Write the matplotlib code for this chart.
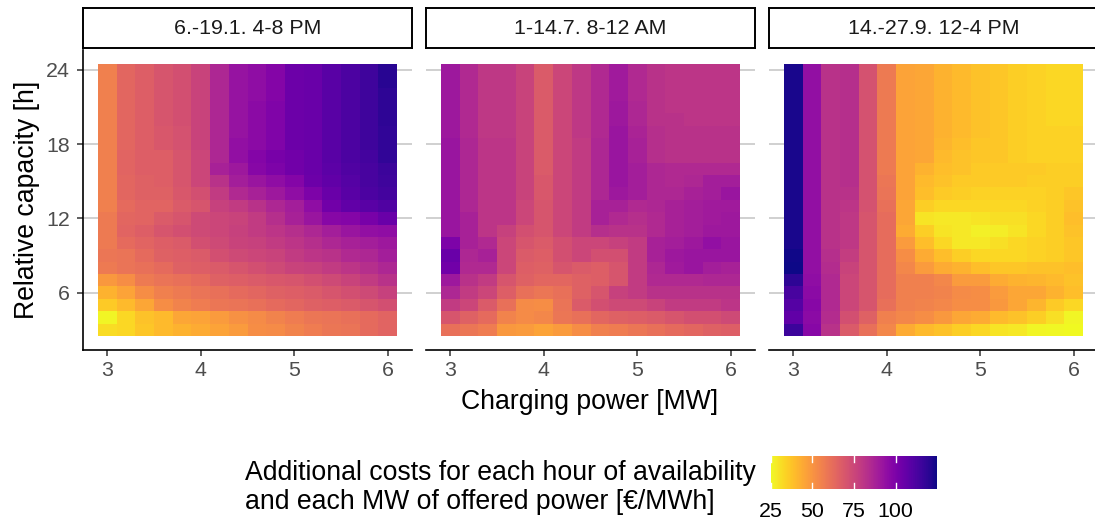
import numpy as np
import matplotlib.pyplot as plt
from matplotlib.colors import Normalize

plt.rcParams['font.family'] = ['Liberation Sans', 'DejaVu Sans']

# charging power [MW] (columns) and relative capacity [h] (rows)
power_mw = [3.0, 3.2, 3.4, 3.6, 3.8, 4.0, 4.2, 4.4, 4.6, 4.8, 5.0, 5.2, 5.4, 5.6, 5.8, 6.0]
capacity_h = [24, 23, 22, 21, 20, 19, 18, 17, 16, 15, 14, 13, 12, 11, 10, 9, 8, 7, 6, 5, 4, 3]

panel_titles = ["6.-19.1. 4-8 PM", "1-14.7. 8-12 AM", "14.-27.9. 12-4 PM"]

# additional costs [EUR/MWh], one row per capacity (24 h at the top)
cost_winter = [
    [56, 64, 67, 70, 72, 76, 86, 93, 95, 98, 104, 105, 109, 112, 115, 120],
    [56, 64, 67, 70, 72, 76, 86, 93, 95, 98, 104, 105, 109, 112, 115, 120],
    [56, 64, 67, 70, 72, 76, 86, 93, 95, 98, 104, 105, 109, 112, 115, 119],
    [56, 64, 67, 70, 72, 76, 86, 93, 96, 99, 104, 105, 109, 112, 115, 119],
    [56, 64, 67, 70, 72, 76, 86, 93, 96, 99, 104, 105, 109, 112, 115, 119],
    [56, 64, 67, 69, 71, 76, 86, 93, 96, 99, 104, 105, 109, 112, 115, 118],
    [56, 64, 67, 69, 71, 76, 86, 94, 96, 99, 104, 105, 109, 112, 115, 118],
    [56, 65, 67, 67, 70, 75, 86, 94, 98, 101, 103, 105, 109, 112, 114, 118],
    [56, 65, 67, 67, 70, 75, 88, 91, 97, 100, 103, 105, 108, 111, 113, 116],
    [56, 64, 66, 67, 70, 75, 82, 89, 92, 95, 98, 104, 107, 110, 113, 115],
    [56, 64, 66, 66, 69, 72, 79, 85, 88, 91, 95, 100, 105, 109, 112, 114],
    [56, 63, 65, 65, 68, 70, 77, 79, 82, 86, 89, 95, 103, 107, 109, 111],
    [58, 64, 65, 68, 70, 74, 75, 76, 79, 83, 88, 92, 97, 98, 101, 105],
    [58, 65, 67, 70, 72, 74, 75, 77, 79, 81, 83, 86, 89, 92, 94, 95],
    [58, 63, 65, 67, 68, 72, 74, 76, 77, 79, 81, 83, 86, 88, 89, 91],
    [59, 60, 63, 66, 67, 68, 72, 74, 75, 76, 79, 81, 82, 85, 86, 89],
    [58, 60, 61, 63, 66, 67, 68, 70, 72, 74, 76, 77, 79, 81, 83, 86],
    [49, 52, 58, 60, 61, 63, 66, 67, 68, 69, 70, 72, 74, 76, 79, 82],
    [42, 46, 52, 56, 58, 60, 61, 63, 64, 66, 67, 68, 70, 72, 74, 77],
    [36, 40, 45, 52, 55, 57, 59, 60, 61, 63, 64, 66, 67, 68, 70, 72],
    [26, 33, 38, 40, 45, 46, 48, 51, 53, 55, 57, 59, 60, 61, 63, 65],
    [32, 33, 37, 40, 42, 44, 46, 48, 52, 53, 55, 57, 59, 60, 63, 65],
]

cost_summer = [
    [91, 85, 80, 80, 76, 68, 75, 80, 85, 90, 85, 82, 81, 81, 81, 81],
    [91, 85, 80, 80, 76, 68, 75, 80, 85, 90, 85, 82, 81, 81, 81, 81],
    [91, 85, 80, 80, 76, 68, 75, 80, 85, 90, 85, 82, 81, 81, 81, 81],
    [91, 85, 80, 80, 76, 68, 75, 80, 85, 91, 86, 82, 81, 81, 81, 81],
    [91, 85, 80, 80, 76, 68, 75, 80, 85, 91, 86, 82, 82, 81, 81, 81],
    [91, 85, 80, 80, 76, 68, 75, 80, 85, 92, 87, 83, 82, 82, 82, 82],
    [92, 86, 81, 81, 76, 68, 75, 79, 86, 92, 88, 83, 82, 82, 82, 82],
    [92, 86, 81, 81, 76, 68, 75, 79, 86, 92, 88, 83, 82, 82, 82, 82],
    [92, 86, 81, 81, 76, 68, 75, 79, 86, 92, 89, 86, 85, 85, 85, 85],
    [92, 86, 81, 81, 76, 69, 75, 79, 86, 92, 89, 86, 85, 86, 89, 89],
    [92, 86, 81, 81, 76, 69, 75, 79, 86, 91, 89, 86, 86, 88, 89, 92],
    [92, 86, 81, 81, 75, 70, 75, 79, 88, 88, 85, 86, 88, 89, 90, 90],
    [92, 88, 81, 81, 75, 70, 75, 79, 88, 85, 83, 85, 88, 89, 90, 91],
    [92, 88, 81, 77, 72, 70, 75, 79, 83, 82, 82, 85, 88, 89, 91, 91],
    [100, 88, 85, 75, 70, 68, 72, 75, 75, 77, 79, 88, 89, 91, 94, 92],
    [105, 86, 88, 75, 68, 67, 72, 75, 72, 72, 79, 88, 91, 92, 92, 92],
    [103, 85, 85, 75, 67, 66, 70, 68, 67, 70, 79, 86, 90, 92, 89, 88],
    [91, 82, 79, 70, 66, 64, 64, 66, 67, 70, 79, 85, 85, 85, 86, 86],
    [86, 79, 75, 67, 61, 59, 61, 66, 70, 77, 79, 82, 82, 82, 82, 82],
    [79, 75, 68, 61, 53, 52, 60, 68, 72, 74, 74, 76, 79, 79, 79, 81],
    [70, 66, 63, 55, 53, 54, 59, 61, 64, 66, 67, 68, 70, 72, 72, 74],
    [61, 59, 57, 49, 48, 46, 48, 52, 56, 57, 59, 61, 63, 64, 66, 67],
]

cost_autumn = [
    [123, 94, 82, 83, 71, 58, 46, 45, 42, 40, 38, 37, 35, 34, 33, 33],
    [123, 94, 82, 83, 71, 58, 46, 45, 42, 40, 38, 37, 35, 34, 33, 33],
    [123, 94, 82, 83, 71, 58, 46, 45, 42, 40, 38, 37, 35, 34, 33, 33],
    [123, 94, 82, 83, 71, 58, 46, 45, 42, 40, 38, 37, 35, 34, 33, 33],
    [123, 94, 82, 83, 71, 58, 46, 45, 42, 40, 38, 37, 35, 34, 33, 33],
    [123, 94, 82, 83, 71, 58, 46, 45, 42, 40, 38, 37, 35, 34, 34, 34],
    [123, 94, 82, 83, 71, 58, 46, 45, 41, 39, 37, 37, 35, 34, 34, 34],
    [123, 94, 82, 83, 71, 58, 46, 45, 40, 38, 37, 37, 35, 34, 34, 34],
    [123, 94, 82, 83, 71, 58, 46, 42, 39, 38, 36, 36, 36, 36, 35, 35],
    [123, 94, 82, 83, 71, 59, 46, 40, 38, 36, 36, 36, 36, 35, 35, 35],
    [123, 94, 82, 82, 71, 60, 46, 39, 36, 35, 34, 34, 34, 34, 35, 37],
    [123, 94, 82, 81, 71, 61, 45, 35, 33, 33, 33, 33, 33, 34, 35, 38],
    [123, 94, 82, 80, 70, 62, 45, 30, 29, 29, 30, 31, 31, 33, 35, 39],
    [123, 94, 82, 80, 70, 62, 44, 35, 30, 29, 27, 28, 30, 33, 35, 38],
    [123, 94, 82, 80, 70, 62, 48, 39, 33, 29, 29, 31, 33, 34, 35, 37],
    [124, 94, 83, 78, 70, 62, 52, 44, 39, 35, 33, 33, 33, 34, 35, 37],
    [124.6, 94, 84, 76, 70, 62, 54, 48, 44, 42, 39, 37, 37, 38, 38, 39],
    [119, 95, 85, 75, 70, 62, 56, 56, 54, 48, 48, 44, 42, 41, 40, 38],
    [113, 96, 85, 75, 70, 62, 56, 56, 55, 53, 52, 48, 45, 45, 42, 39],
    [110, 97, 85, 75, 70, 61, 56, 55, 54, 52, 52, 49, 45, 41, 36, 33],
    [107, 96, 84, 72, 66, 56, 54, 52, 49, 45, 44, 40, 38, 35, 31, 26],
    [116, 97, 82, 68, 61, 54, 44, 40, 38, 35, 33, 30, 29, 26, 25.5, 25],
]

panel_costs = [cost_winter, cost_summer, cost_autumn]
y_ticks = [6, 12, 18, 24]
x_ticks = [3, 4, 5, 6]
legend_ticks = [25, 50, 75, 100]

W, H = 1095, 526
fig = plt.figure(figsize=(W / 100, H / 100), dpi=100)

all_vals = np.concatenate([np.ravel(c) for c in panel_costs])
norm = Normalize(vmin=all_vals.min(), vmax=all_vals.max())

# ggplot-style 5% expansion around the tiles
x_lo, x_hi = min(power_mw) - 0.1, max(power_mw) + 0.1
y_lo, y_hi = min(capacity_h) - 0.5, max(capacity_h) + 0.5
x_pad = 0.05 * (x_hi - x_lo)
y_pad = 0.05 * (y_hi - y_lo)

small = 15.4
big = 19.2
panel_left = [83, 426, 769]
panel_w = 329
panel_top, panel_bot = 50, 349.6

mesh = None
for i, (left, title, costs) in enumerate(zip(panel_left, panel_titles, panel_costs)):
    ax = fig.add_axes([left / W, 1 - panel_bot / H, panel_w / W, (panel_bot - panel_top) / H])
    mesh = ax.pcolormesh(power_mw, capacity_h, np.array(costs, dtype=float),
                         shading='nearest', cmap='plasma_r', norm=norm, zorder=2)
    ax.set_xlim(x_lo - x_pad, x_hi + x_pad)
    ax.set_ylim(y_lo - y_pad, y_hi + y_pad)
    for yt in y_ticks:
        ax.axhline(yt, color='#d0d0d0', lw=1.4, zorder=1)
    ax.set_xticks(x_ticks)
    ax.set_yticks(y_ticks)
    for side in ['top', 'right']:
        ax.spines[side].set_visible(False)
    ax.spines['bottom'].set_color('black')
    ax.spines['bottom'].set_linewidth(1.2)
    ax.tick_params(axis='x', length=4.3, width=1.1, color='#333333', labelsize=small,
                   labelcolor='#4d4d4d', pad=4)
    if i == 0:
        ax.spines['left'].set_color('black')
        ax.spines['left'].set_linewidth(1.2)
        ax.tick_params(axis='y', length=4.3, width=1.1, color='#333333', labelsize=small,
                       labelcolor='#4d4d4d', pad=5)
    else:
        ax.spines['left'].set_visible(False)
        ax.tick_params(axis='y', length=0, labelleft=False)

    # facet strip
    sax = fig.add_axes([left / W, 1 - 48.3 / H, panel_w / W, 40 / H])
    sax.set_xticks([])
    sax.set_yticks([])
    for sp in sax.spines.values():
        sp.set_linewidth(1.4)
        sp.set_color('black')
    sax.text(0.5, 0.5, title, ha='center', va='center', fontsize=small, color='#1a1a1a',
             transform=sax.transAxes)

fig.text(27 / W, 1 - 200 / H, "Relative capacity [h]", rotation=90, ha='center', va='center',
         fontsize=big)
fig.text(590 / W, 1 - 402 / H, "Charging power [MW]", ha='center', va='center', fontsize=big)

# colour legend
fig.text(245 / W, 1 - 487.5 / H,
         "Additional costs for each hour of availability\nand each MW of offered power [€/MWh]",
         ha='left', va='center', fontsize=big, linespacing=1.15)
cax = fig.add_axes([770.7 / W, 1 - 489.3 / H, 166 / W, 33.6 / H])
cbar = fig.colorbar(mesh, cax=cax, orientation='horizontal')
cbar.outline.set_visible(False)
cbar.set_ticks(legend_ticks)
cax.tick_params(length=0, labelsize=small, pad=9, labelcolor='black')
for t in legend_ticks:
    cax.axvline(t, ymin=0, ymax=0.2, color='white', lw=1)
    cax.axvline(t, ymin=0.8, ymax=1, color='white', lw=1)

fig.savefig("out.png", dpi=100)
